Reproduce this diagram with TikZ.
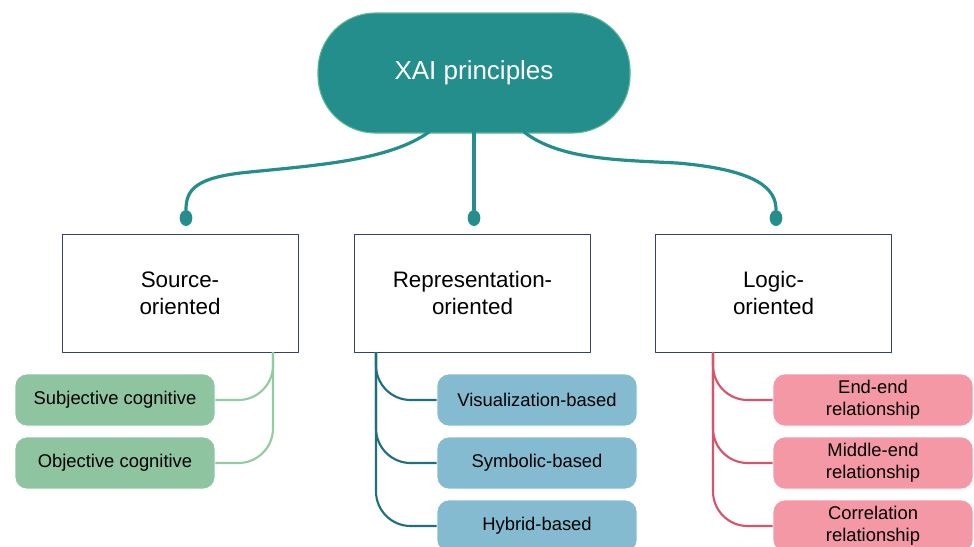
\documentclass[tikz,border=0pt]{standalone}
\usepackage{fontspec}
\setmainfont{Liberation Sans}
\usetikzlibrary{shapes.geometric}
\definecolor{rootteal}{HTML}{238E8C}
\definecolor{rootedge}{HTML}{5DB98E}
\definecolor{boxedge}{HTML}{34445E}
\definecolor{srcfill}{HTML}{8EC4A0}
\definecolor{srcline}{HTML}{93CBA4}
\definecolor{repfill}{HTML}{84BBD0}
\definecolor{repline}{HTML}{1F6F80}
\definecolor{logfill}{HTML}{F598A5}
\definecolor{logline}{HTML}{D6546C}
\tikzset{
  root/.style={draw=rootedge,line width=0.8pt,fill=rootteal,text=white,rounded corners=43pt,
    minimum width=234pt,minimum height=90pt,font=\fontsize{19.5}{22}\selectfont},
  aspect/.style={draw=boxedge,line width=0.7pt,fill=white,minimum width=177pt,minimum height=88.5pt,
    align=center,font=\fontsize{16.8}{20.5}\selectfont},
  leaf/.style={draw=white,line width=0.5pt,rounded corners=9pt,minimum width=150pt,minimum height=39pt,
    align=center,font=\fontsize{13.8}{16.5}\selectfont},
  knob/.style={ellipse,fill=rootteal,inner sep=0pt,minimum width=9.5pt,minimum height=12pt},
  trunk/.style={draw=rootteal,line width=2.4pt,line cap=round},
  twig/.style={line width=1.6pt,rounded corners=26pt}
}
\begin{document}
\begin{tikzpicture}[x=0.75pt,y=-0.75pt,line join=round]
\useasboundingbox (0,0) rectangle (974,546);
% root and aspects
\node[root] (xai) at (474,73) {XAI principles};
\node[aspect] (src) at (180,293) {Source-\\oriented};
\node[aspect] (rep) at (472.5,293) {Representation-\\oriented};
\node[aspect] (log) at (773.5,293) {Logic-\\oriented};
\node[knob] (ksrc) at (186,218) {};
\node[knob] (krep) at (474,218) {};
\node[knob] (klog) at (776,218) {};
\coordinate (xl) at (429,132);
\coordinate (xm) at (474,132);
\coordinate (xr) at (524,132);
\draw[trunk] (xl) .. controls (390,160) and (320,165) .. (250,172) .. controls (195,177) and (186,190) .. (ksrc.north);
\draw[trunk] (xm) -- (krep.north);
\draw[trunk] (xr) .. controls (560,160) and (620,160) .. (677,163) .. controls (760,170) and (776,190) .. (klog.north);
% source-oriented
\node[leaf,fill=srcfill] (subj) at (115,400) {Subjective cognitive};
\node[leaf,fill=srcfill] (obj) at (115,463) {Objective cognitive};
\coordinate (fsrc) at (273,352);
\draw[twig,draw=srcline] (fsrc) |- (subj.east);
\draw[twig,draw=srcline] (fsrc) |- (obj.east);
% representation-oriented
\node[leaf,fill=repfill] (vis) at (537,400) {Visualization-based};
\node[leaf,fill=repfill] (sym) at (537,463) {Symbolic-based};
\node[leaf,fill=repfill] (hyb) at (537,526) {Hybrid-based};
\coordinate (frep) at (376,352);
\foreach \n in {vis,sym,hyb}
  \draw[twig,draw=repline] (frep) |- (\n.west);
% logic-oriented
\node[leaf,fill=logfill] (ee) at (873,400) {End-end\\relationship};
\node[leaf,fill=logfill] (me) at (873,463) {Middle-end\\relationship};
\node[leaf,fill=logfill] (cor) at (873,526) {Correlation\\relationship};
\coordinate (flog) at (713,352);
\foreach \n in {ee,me,cor}
  \draw[twig,draw=logline] (flog) |- (\n.west);
\end{tikzpicture}
\end{document}
